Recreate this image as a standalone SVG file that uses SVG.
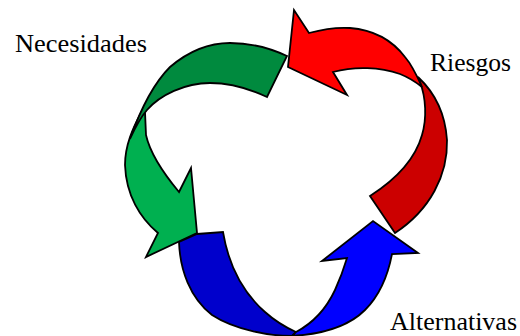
<svg xmlns="http://www.w3.org/2000/svg" width="520" height="336" viewBox="0 0 520 336">
<style>
.a{stroke:#000;stroke-width:1.8;stroke-linejoin:miter}
.t{font-family:"Liberation Serif","Times New Roman",serif;font-size:26px;fill:#000}
</style>
<rect width="520" height="336" fill="#fff"/>
<g id="arrows">
<g id="necesidades-arrow">
<path class="a" fill="#00B050" d="M152,95 L141,113 C133,128 125,145 125,165 C126,195 140,218 158,233 L146,257 L197,233 L191,168 L179,192 C164,174 150,153 146,135 L145,112 Z"/>
<path class="a" fill="#008A3E" d="M130,139 C142,105 155,82 170,67 C190,50 210,43 230,43 C250,43 270,48 287,56 L267,97 C250,89 230,83 210,83 C185,83 160,95 147,110 C140,118 135,128 130,139 Z"/>
</g>
<g id="riesgos-arrow">
<path class="a" fill="#CC0000" d="M418,77 C432,90 445,110 447,140 C448,175 430,210 395,233 L370,196 C395,180 415,160 422,135 C427,118 426,98 420,82 Z"/>
<path class="a" fill="#FF0000" d="M309,33 L294,10 L288,67 L347,95 L333,72 C355,66 380,67 400,74 C410,78 417,83 422,87 C418,78 412,65 405,57 C392,40 375,30 350,28 C335,27 320,30 309,33 Z"/>
</g>
<g id="alternativas-arrow">
<path class="a" fill="#0000CC" d="M179,242 L197,234 L223,232 C228,262 240,290 265,312 C275,321 285,327 296,332 L292,336 C270,336 235,330 212,315 C190,298 180,270 179,242 Z"/>
<path class="a" fill="#0000FF" d="M296,332 C315,322 328,305 335,290 C341,277 344,268 347,258 L322,261 L373,221 L418,253 L392,254 C388,275 380,295 365,310 C350,325 325,334 292,336 Z"/>
</g>
</g>
<g id="label-necesidades"><text class="t" x="15" y="52" textLength="132" lengthAdjust="spacingAndGlyphs">Necesidades</text></g>
<g id="label-riesgos"><text class="t" x="430" y="71" textLength="81" lengthAdjust="spacingAndGlyphs">Riesgos</text></g>
<g id="label-alternativas"><text class="t" x="390" y="330" textLength="127" lengthAdjust="spacingAndGlyphs">Alternativas</text></g>
</svg>
